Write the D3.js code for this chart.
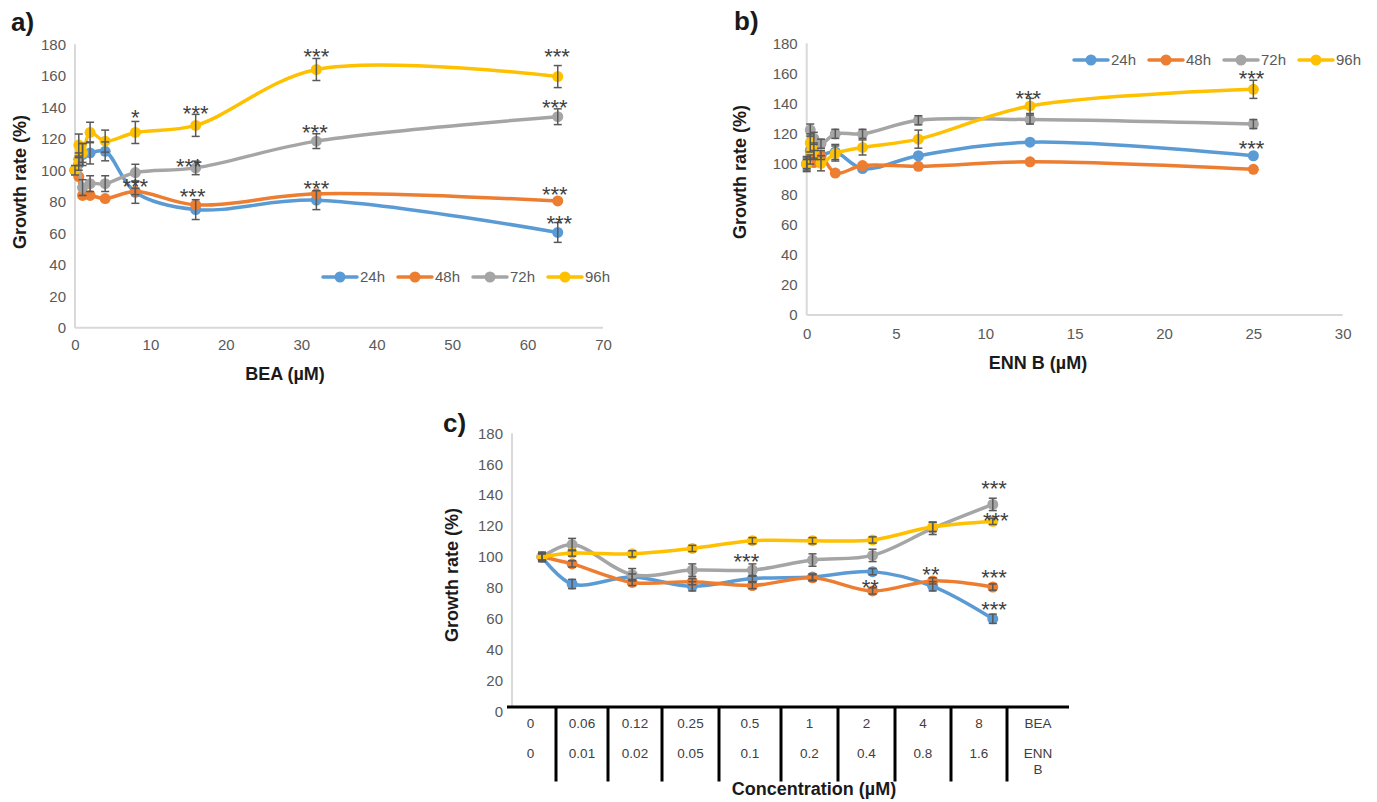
<!DOCTYPE html>
<html><head><meta charset="utf-8">
<script src="https://cdn.jsdelivr.net/npm/d3@7"></script>
<style>
body{margin:0;background:#fff}
svg{display:block}
text{font-family:"Liberation Sans",Arial,sans-serif}
</style>
</head><body>
<svg id="chart" width="1377" height="802"></svg>
<script>
// ---------------- DATA ----------------
const seriesNames = ["24h", "48h", "72h", "96h"];
const seriesColors = ["#5B9BD5", "#ED7D31", "#A5A5A5", "#FFC000"];
const growthTicks = [0, 20, 40, 60, 80, 100, 120, 140, 160, 180];

// Panel a) BEA
const beaConc = [0, 0.5, 1, 2, 4, 8, 16, 32, 64];
const beaTicks = [0, 10, 20, 30, 40, 50, 60, 70];
const bea24 = [100, 104, 110, 111, 112, 86, 75, 81, 60.5];
const bea48 = [100, 96, 84, 84, 82, 86.5, 78, 85, 80.5];
const bea72 = [100, 107, 89, 91.5, 91.5, 98.5, 101.5, 118.5, 134];
const bea96 = [100, 116, 111, 124, 118.5, 124, 128.5, 164, 159.5];
const beaErr24 = [0, 4, 7, 7, 6, 7, 6.3, 6, 6.3];
const beaErr48 = [0, 0, 0, 0, 0, 2, 0, 0, 0];
const beaErr72 = [0, 4, 5, 5, 5, 5.3, 4.3, 4.7, 5];
const beaErr96 = [3, 7, 6, 6.5, 7, 7, 7, 7, 7];
const beaStars = [
  {t: "*",   x: 8,    y: 136.4},
  {t: "***", x: 16,   y: 139.5},
  {t: "***", x: 32,   y: 175.3},
  {t: "***", x: 63.9, y: 175.3},
  {t: "***", x: 15.1, y: 105.4},
  {t: "***", x: 31.8, y: 127},
  {t: "***", x: 63.6, y: 142.9},
  {t: "***", x: 8,    y: 92.7},
  {t: "***", x: 15.6, y: 86.4},
  {t: "***", x: 32,   y: 91.3},
  {t: "***", x: 63.6, y: 87.5},
  {t: "***", x: 64.2, y: 69.5}
];

// Panel b) ENN B
const ennConc = [0, 0.2, 0.4, 0.8, 1.6, 3.125, 6.25, 12.5, 25];
const ennTicks = [0, 5, 10, 15, 20, 25, 30];
const enn24 = [100, 103, 106, 106, 108, 97, 105.5, 114.5, 105.5];
const enn48 = [100, 109, 101, 105, 94, 99, 98.5, 101.5, 96.5];
const enn72 = [100, 122.5, 117, 113.5, 120, 120, 129, 129.5, 126.5];
const enn96 = [100, 114, 109, 100.5, 107, 111, 116.5, 138.5, 149.5];
const ennErr24 = [4, 3, 3, 3, 5, 0, 0, 0, 0];
const ennErr48 = [0, 0, 0, 0, 0, 0, 0, 0, 0];
const ennErr72 = [3, 4, 4, 3, 3, 3, 3, 3, 3];
const ennErr96 = [5, 6, 5, 5, 5, 5, 6, 5, 6];
const ennStars = [
  {t: "***", x: 12.4, y: 146.9},
  {t: "***", x: 24.9, y: 160.1},
  {t: "***", x: 24.9, y: 113.8}
];

// Panel c) combination (category slots)
const comboSlot = [0.5, 1, 2, 3, 4, 5, 6, 7, 8];
const comboBEA = ["0", "0.06", "0.12", "0.25", "0.5", "1", "2", "4", "8", "BEA"];
const comboENN = ["0", "0.01", "0.02", "0.05", "0.1", "0.2", "0.4", "0.8", "1.6", "ENN B"];
const combo24 = [100, 82.5, 87, 81, 86, 87, 90.5, 81, 60];
const combo48 = [100, 95.5, 83.5, 84, 81.5, 86.5, 78, 84.5, 80.5];
const combo72 = [100, 108, 88.5, 91.5, 91.5, 98, 101, 118.5, 134];
const combo96 = [100, 102.5, 102, 105.5, 110.5, 110.5, 111, 119.5, 123];
const comboErr24 = [3, 3, 2, 3, 2, 2, 2, 3, 3];
const comboErr48 = [2, 2, 2, 2, 2, 2, 2, 2, 2];
const comboErr72 = [3, 4, 4, 4, 4, 4, 4, 4, 4];
const comboErr96 = [2, 2, 2, 2, 2, 2, 2, 3, 2];
const comboStars = [
  {t: "***", x: 3.9,  y: 100.2},
  {t: "***", x: 8.02, y: 147.2},
  {t: "***", x: 8.05, y: 126.5},
  {t: "**",  x: 5.96, y: 83.4},
  {t: "**",  x: 6.97, y: 91.6},
  {t: "***", x: 8.02, y: 89.9},
  {t: "***", x: 8.02, y: 69}
];

// ---------------- LAYOUT ----------------
const TICK_COLOR = "#595959";
const AXIS_COLOR = "#D9D9D9";
const svg = d3.select("#chart");
svg.append("rect").attr("width", 1377).attr("height", 802).attr("fill", "#fff");

const curve = d3.curveCatmullRom.alpha(0.5);

function drawSeries(g, x, y, xs, ys, errs) {
  ys.forEach((vals, si) => {
    const pts = xs.map((xv, i) => [xv, vals[i]]);
    g.append("path")
      .attr("d", d3.line().x(d => x(d[0])).y(d => y(d[1])).curve(curve)(pts))
      .attr("fill", "none").attr("stroke", seriesColors[si])
      .attr("stroke-width", 3.5).attr("stroke-linecap", "round").attr("stroke-linejoin", "round");
    g.selectAll(null).data(pts).enter().append("circle")
      .attr("cx", d => x(d[0])).attr("cy", d => y(d[1])).attr("r", 5.5)
      .attr("fill", seriesColors[si]);
  });
  const eg = g.append("g").attr("stroke", "#595959").attr("stroke-width", 1.5);
  ys.forEach((vals, si) => {
    xs.forEach((xv, i) => {
      const e = errs[si][i];
      if (!e) return;
      const cx = x(xv), y1 = y(vals[i] - e), y2 = y(vals[i] + e);
      eg.append("line").attr("x1", cx).attr("x2", cx).attr("y1", y1).attr("y2", y2);
      eg.append("line").attr("x1", cx - 4).attr("x2", cx + 4).attr("y1", y1).attr("y2", y1);
      eg.append("line").attr("x1", cx - 4).attr("x2", cx + 4).attr("y1", y2).attr("y2", y2);
    });
  });
}

function drawStars(g, x, y, stars) {
  g.selectAll(null).data(stars).enter().append("text")
    .attr("x", d => x(d.x)).attr("y", d => y(d.y) + 12.5)
    .attr("text-anchor", "middle").attr("font-size", 22).attr("fill", "#404040")
    .text(d => d.t);
}

function yAxis(g, y, xPos) {
  const ax = g.append("g").attr("transform", `translate(${xPos},0)`)
    .call(d3.axisLeft(y).tickValues(growthTicks).tickSize(0).tickPadding(9));
  ax.select(".domain").remove();
  ax.selectAll("text").attr("font-size", 15).attr("fill", TICK_COLOR)
    .attr("font-family", "Liberation Sans, Arial, sans-serif");
}

function xAxis(g, x, yPos, ticks, pad) {
  const ax = g.append("g").attr("transform", `translate(0,${yPos})`)
    .call(d3.axisBottom(x).tickValues(ticks).tickSize(0).tickPadding(pad));
  ax.select(".domain").remove();
  ax.selectAll("text").attr("font-size", 15).attr("fill", TICK_COLOR)
    .attr("font-family", "Liberation Sans, Arial, sans-serif");
}

function legend(g, x0, yPos) {
  seriesNames.forEach((n, i) => {
    const lx = x0 + i * 75;
    g.append("line").attr("x1", lx).attr("x2", lx + 34).attr("y1", yPos).attr("y2", yPos)
      .attr("stroke", seriesColors[i]).attr("stroke-width", 3.5).attr("stroke-linecap", "round");
    g.append("circle").attr("cx", lx + 17).attr("cy", yPos).attr("r", 5.5).attr("fill", seriesColors[i]);
    g.append("text").attr("x", lx + 37).attr("y", yPos + 5.4).attr("font-size", 15)
      .attr("fill", TICK_COLOR).text(n);
  });
}

function titleX(g, text, cx, base) {
  g.append("text").attr("x", cx).attr("y", base).attr("text-anchor", "middle")
    .attr("font-size", 18).attr("font-weight", "bold").attr("fill", "#1a1a1a").text(text);
}
function titleY(g, cx, cy) {
  g.append("text").attr("transform", `translate(${cx + 6.4},${cy}) rotate(-90)`)
    .attr("text-anchor", "middle").attr("font-size", 18).attr("font-weight", "bold")
    .attr("fill", "#1a1a1a").text("Growth rate (%)");
}
function panelLabel(g, t, x, y) {
  g.append("text").attr("x", x).attr("y", y).attr("font-size", 26).attr("font-weight", "bold")
    .attr("fill", "#1a1a1a").text(t);
}
function axisLines(g, x0, x1, y0, y1) {
  g.append("line").attr("x1", x0).attr("x2", x0).attr("y1", y1).attr("y2", y0)
    .attr("stroke", AXIS_COLOR).attr("stroke-width", 2);
  if (x1 !== null) g.append("line").attr("x1", x0).attr("x2", x1).attr("y1", y0).attr("y2", y0)
    .attr("stroke", AXIS_COLOR).attr("stroke-width", 2);
}

// ----- Panel a -----
{
  const g = svg.append("g");
  const x = d3.scaleLinear().domain([0, 70]).range([75, 603]);
  const y = d3.scaleLinear().domain([0, 180]).range([327.7, 44.3]);
  axisLines(g, 75, 603, 327.7, 44.3);
  yAxis(g, y, 75);
  xAxis(g, x, 327.7, beaTicks, 12);
  legend(g, 323, 277);
  drawSeries(g, x, y, beaConc, [bea24, bea48, bea72, bea96], [beaErr24, beaErr48, beaErr72, beaErr96]);
  drawStars(g, x, y, beaStars);
  titleX(g, "BEA (µM)", 285, 379.5);
  titleY(g, 20, 182);
  panelLabel(g, "a)", 11, 31);
}

// ----- Panel b -----
{
  const g = svg.append("g");
  const x = d3.scaleLinear().domain([0, 30]).range([806.7, 1342.7]);
  const y = d3.scaleLinear().domain([0, 180]).range([315, 43.3]);
  axisLines(g, 806.7, 1342.7, 315, 43.3);
  yAxis(g, y, 806.7);
  xAxis(g, x, 315, ennTicks, 13.5);
  legend(g, 1074, 60);
  drawSeries(g, x, y, ennConc, [enn24, enn48, enn72, enn96], [ennErr24, ennErr48, ennErr72, ennErr96]);
  drawStars(g, x, y, ennStars);
  titleX(g, "ENN B (µM)", 1038, 369);
  titleY(g, 740, 172);
  panelLabel(g, "b)", 734, 30);
}

// ----- Panel c -----
{
  const g = svg.append("g");
  const x = d3.scaleLinear().domain([0, 8]).range([512, 512 + 8 * 60.1]);
  const y = d3.scaleLinear().domain([0, 180]).range([711.5, 433.3]);
  const tableTop = 707, tableBottom = 781.5;
  axisLines(g, 512, null, tableTop, 433.3);
  yAxis(g, y, 512);
  // data table below the plot
  const colEdges = [507, 556, 608, 662, 719, 781, 838, 895, 951, 1007, 1069];
  g.append("line").attr("x1", colEdges[0]).attr("x2", colEdges[colEdges.length - 1])
    .attr("y1", tableTop).attr("y2", tableTop).attr("stroke", "#000").attr("stroke-width", 3);
  colEdges.slice(1, -1).forEach(cx => {
    g.append("line").attr("x1", cx).attr("x2", cx).attr("y1", tableTop).attr("y2", tableBottom)
      .attr("stroke", "#000").attr("stroke-width", 3);
  });
  const rowY = [723, 753];
  [comboBEA, comboENN].forEach((row, ri) => {
    row.forEach((lab, ci) => {
      const cx = (colEdges[ci] + colEdges[ci + 1]) / 2 + (ci === 0 ? -1 : 0);
      const parts = ci === row.length - 1 ? lab.split(" ") : [lab];
      parts.forEach((p, pi) => {
        g.append("text").attr("x", cx).attr("y", rowY[ri] + 5 + pi * 15.5)
          .attr("text-anchor", "middle").attr("font-size", 13.5).attr("fill", "#404040").text(p);
      });
    });
  });
  drawSeries(g, x, y, comboSlot, [combo24, combo48, combo72, combo96],
    [comboErr24, comboErr48, comboErr72, comboErr96]);
  drawStars(g, x, y, comboStars);
  titleX(g, "Concentration (µM)", 814, 794.5);
  titleY(g, 452, 575);
  panelLabel(g, "c)", 443, 432);
}
</script>
</body></html>
